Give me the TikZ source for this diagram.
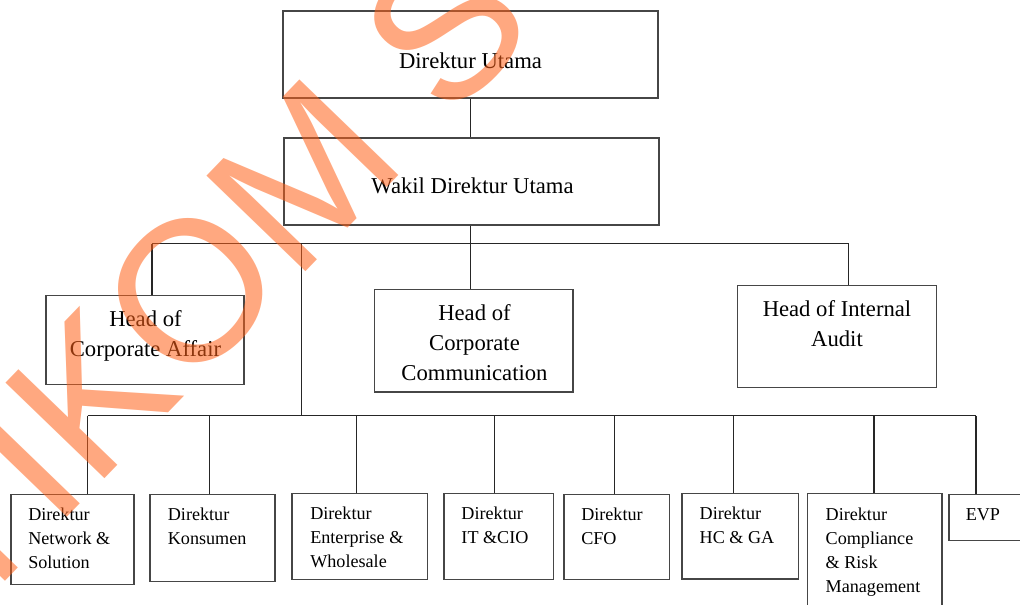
\documentclass[tikz,border=0pt]{standalone}
\usepackage{fontspec}
\setmainfont{Liberation Serif}
\newfontfamily\wmfont{Liberation Sans}
\definecolor{wmorange}{RGB}{255,97,24}
\definecolor{linegray}{RGB}{70,70,70}
\newcommand{\tbl}[2]{\begin{tabular}[t]{@{}#1@{}}#2\end{tabular}}
\begin{document}
\begin{tikzpicture}[x=0.75pt,y=-0.75pt,
  box/.style={draw=linegray, line width=1.1pt, inner sep=0pt, rectangle},
  sized/.style 2 args={minimum width=#1*0.75pt, minimum height=#2*0.75pt},
  link/.style={draw=black!85, line width=0.9pt},
  toptxt/.style={inner sep=0pt, anchor=base, font=\fontsize{17}{22.5}\selectfont},
  bottxt/.style={inner sep=0pt, anchor=base west, font=\fontsize{13.6}{18}\selectfont},
  wm/.style={inner sep=0pt, text=wmorange, text opacity=0.55, font=\wmfont\fontsize{150}{150}\selectfont}]
\useasboundingbox (0,0) rectangle (1020,604);
% boxes
\node[box, sized={375}{87}] (du) at (470.5,54.5) {};
\node[box, sized={375}{87}] (wdu) at (471.5,181.5) {};
\node[box, sized={198}{89}] (hca) at (145,340) {};
\node[box, sized={198.5}{102.5}] (hcc) at (473.75,340.75) {};
\node[box, sized={199}{102}] (hia) at (837,336.5) {};
\node[box, sized={123}{90}] (b1) at (72.5,539.5) {};
\node[box, sized={125}{87}] (b2) at (212.5,538) {};
\node[box, sized={135.5}{86}] (b3) at (359.75,536.5) {};
\node[box, sized={109.5}{86}] (b4) at (498.75,536.5) {};
\node[box, sized={105.5}{85}] (b5) at (616.75,537) {};
\node[box, sized={116.5}{85.5}] (b6) at (740.25,536.25) {};
\node[box, sized={134.5}{126.5}] (b7) at (874.75,556.75) {};
\node[box, sized={91}{46}] (b8) at (994.5,517.5) {};
% texts
\node[toptxt] (tdu) at (470.5,68.3) {Direktur Utama};
\node[toptxt] (twdu) at (472.5,193.5) {Wakil Direktur Utama};
\node[toptxt] (thca) at (145.5,326.7) {\tbl{c}{Head of\\Corporate Affair}};
\node[toptxt] (thcc) at (474.5,320) {\tbl{c}{Head of\\Corporate\\Communication}};
\node[toptxt] (thia) at (837,316.7) {\tbl{c}{Head of Internal\\Audit}};
\node[bottxt] (tb1) at (28,520.7) {\tbl{l}{Direktur\\Network \&\\Solution}};
\node[bottxt] (tb2) at (167.6,520.7) {\tbl{l}{Direktur\\Konsumen}};
\node[bottxt] (tb3) at (310,519.5) {\tbl{l}{Direktur\\Enterprise \&\\Wholesale}};
\node[bottxt] (tb4) at (461.2,519.5) {\tbl{l}{Direktur\\IT \&CIO}};
\node[bottxt] (tb5) at (581,520.7) {\tbl{l}{Direktur\\CFO}};
\node[bottxt] (tb6) at (699.4,519.3) {\tbl{l}{Direktur\\HC \& GA}};
\node[bottxt] (tb7) at (825.4,520) {\tbl{l}{Direktur\\Compliance\\\& Risk\\Management}};
\node[bottxt] (tb8) at (965.5,520.7) {EVP};
% connectors
\coordinate (tL) at (152,243.5);
\coordinate (tM) at (301.3,243.5);
\coordinate (tR) at (848.5,243.5);
\coordinate (bL) at (87.5,415.7);
\coordinate (bR) at (976,415.7);
\coordinate (d2) at (209.7,415.7);
\coordinate (d3) at (356.3,415.7);
\coordinate (d4) at (494.4,415.7);
\coordinate (d5) at (614.3,415.7);
\coordinate (d6) at (733.8,415.7);
\coordinate (d7) at (873.9,415.7);
\draw[link] (du.south) -- (du.south |- wdu.north);
\draw[link] (du.south |- wdu.south) -- (du.south |- hcc.north);
\draw[link] (tL) -- (tR);
\draw[link] (tL) -- (tL |- hca.north);
\draw[link] (tR) -- (tR |- hia.north);
\draw[link] (tM) -- (tM |- bL);
\draw[link] (bL) -- (bR);
\draw[link] (bL) -- (bL |- b1.north);
\draw[link] (d2) -- (d2 |- b2.north);
\draw[link] (d3) -- (d3 |- b3.north);
\draw[link] (d4) -- (d4 |- b4.north);
\draw[link] (d5) -- (d5 |- b5.north);
\draw[link] (d6) -- (d6 |- b6.north);
\draw[link] (d7) -- (d7 |- b7.north);
\draw[link] (bR) -- (bR |- b8.north);
% watermark
\begin{scope}
\clip (0,0) rectangle (1020,604);
\node[wm, rotate=46, anchor=base west] (wmk) at (-123,715) {STIKOM SURABAYA};
\end{scope}
\end{tikzpicture}
\end{document}
